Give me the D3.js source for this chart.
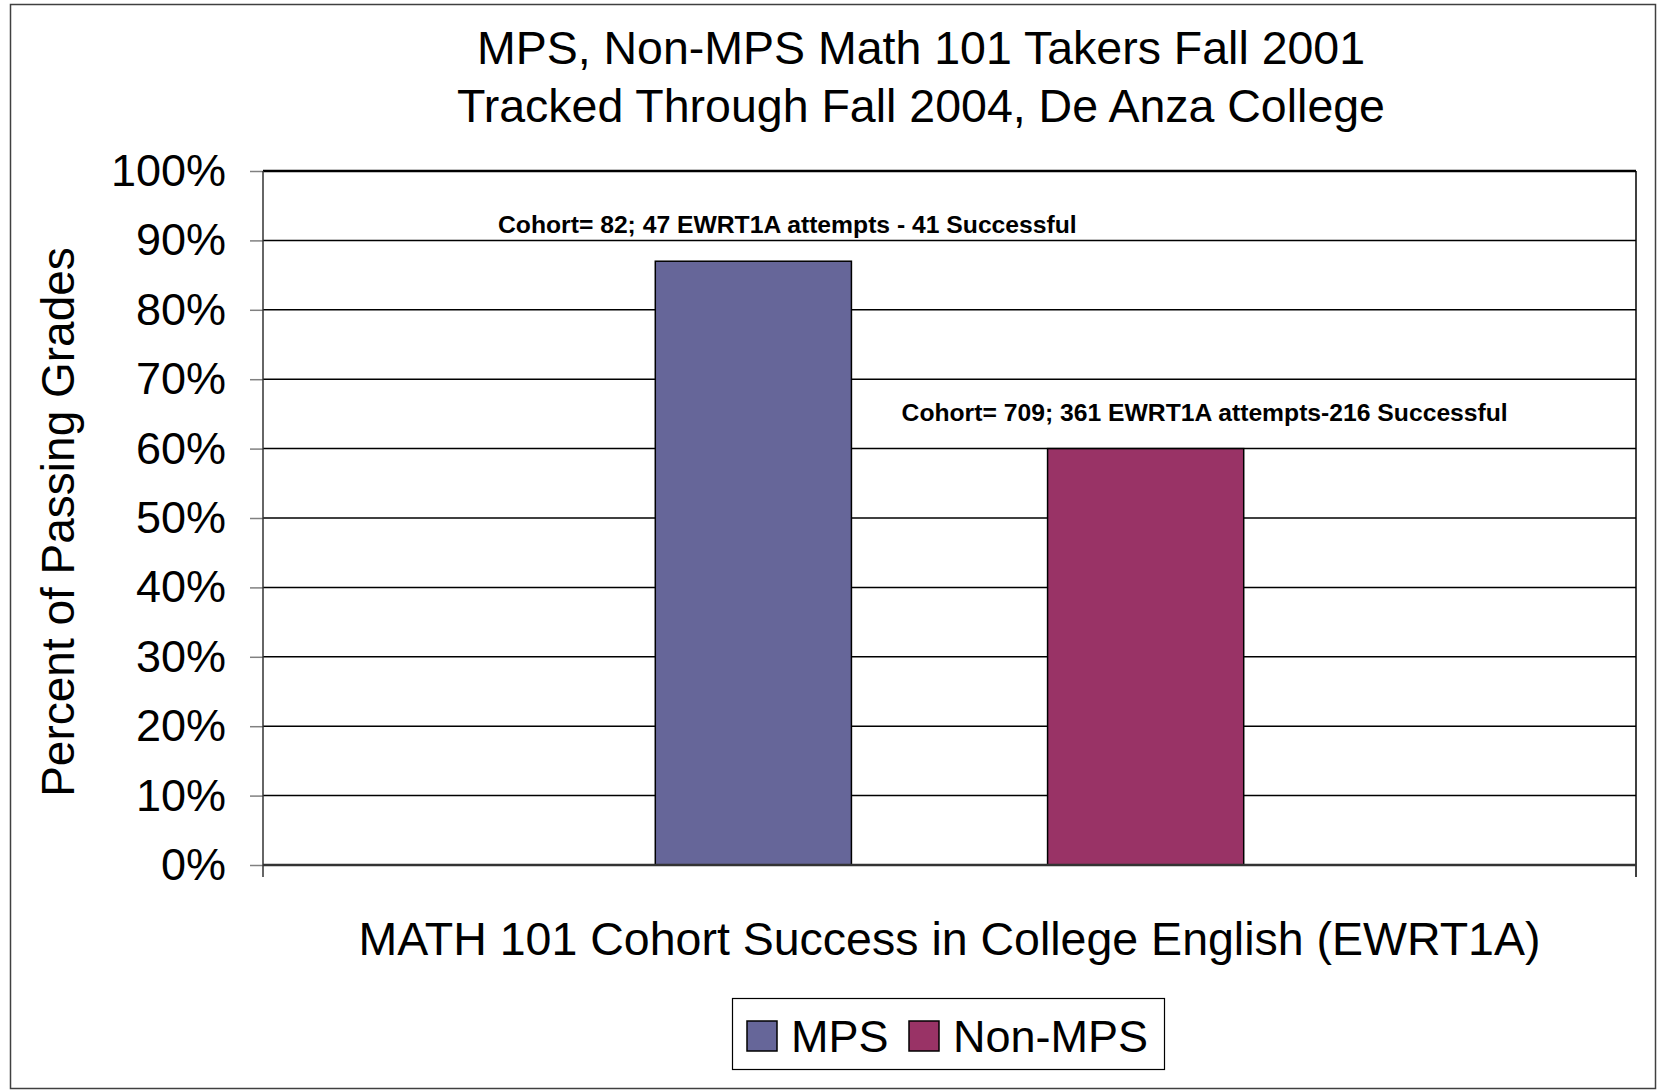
<!DOCTYPE html>
<html>
<head>
<meta charset="utf-8">
<script src="https://cdn.jsdelivr.net/npm/d3@7"></script>
<style>
  body { margin: 0; background: #fff; }
  text { font-family: "Liberation Sans", Arial, sans-serif; fill: #000; }
</style>
</head>
<body>
<div id="chart"></div>
<script>
// data
var category = ["MATH 101 Cohort Success in College English (EWRT1A)"];
var series = ["MPS", "Non-MPS"];
var passRate = [0.87, 0.60];
var barLabels = [
  "Cohort= 82; 47 EWRT1A attempts - 41 Successful",
  "Cohort= 709; 361 EWRT1A attempts-216 Successful"
];
var yTicks = [0, 0.1, 0.2, 0.3, 0.4, 0.5, 0.6, 0.7, 0.8, 0.9, 1.0];
var titleLines = ["MPS, Non-MPS Math 101 Takers Fall 2001", "Tracked Through Fall 2004, De Anza College"];
var yTitle = "Percent of Passing Grades";
var colors = ["#666699", "#993366"];

var width = 1658, height = 1091;
var margin = {top: 171, right: 22, bottom: 226, left: 263};
var w = width - margin.left - margin.right,
    h = height - margin.top - margin.bottom;

var svg = d3.select("#chart").append("svg")
    .attr("width", width)
    .attr("height", height);

// outer frame
svg.append("rect")
    .attr("x", 10.5).attr("y", 4.5)
    .attr("width", 1645).attr("height", 1084)
    .attr("fill", "none").attr("stroke", "#404040").attr("stroke-width", 1.5);

// title
svg.append("g").selectAll("text")
   .data(titleLines)
   .enter().append("text")
   .attr("x", 921)
   .attr("y", function(d, i){ return 64 + i * 58; })
   .attr("text-anchor", "middle")
   .style("font-size", "46.5px")
   .text(function(d){ return d; });

var g = svg.append("g")
    .attr("transform", "translate(" + margin.left + "," + margin.top + ")");

var y = d3.scaleLinear().domain([0, 1]).range([h, 0]);

var x0 = d3.scaleBand()
    .domain(category)
    .range([0, w])
    .paddingInner(0.4)
    .paddingOuter(0.4);

var x1 = d3.scaleBand()
    .domain(series)
    .range([0, x0.bandwidth()])
    .paddingInner(0.5);

var colorscale = d3.scaleOrdinal().domain(series).range(colors);

// gridlines
g.append("g")
  .selectAll("line")
  .data(yTicks.slice(1))
  .enter().append("line")
  .attr("x1", 0).attr("x2", w)
  .attr("y1", function(d){ return y(d); })
  .attr("y2", function(d){ return y(d); })
  .attr("stroke", "#000")
  .attr("stroke-width", function(d){ return d == 1 ? 2.5 : 1.5; });

// right edge of plot
g.append("line")
  .attr("x1", w).attr("x2", w)
  .attr("y1", 0).attr("y2", h + 12)
  .attr("stroke", "#000").attr("stroke-width", 1.5);

// y axis
var yAxis = d3.axisLeft(y)
    .tickValues(yTicks)
    .tickFormat(d3.format(".0%"))
    .tickSize(13)
    .tickPadding(24);

g.append("g")
  .attr("class", "yAxis")
  .call(customYAxis);

function customYAxis(s){
  s.call(yAxis);
  s.select(".domain").remove();
  s.selectAll(".tick line").attr("stroke", "#808080").attr("stroke-width", 1.5);
  s.selectAll(".tick text")
   .style("font-size", "45px")
   .style("font-family", "'Liberation Sans', Arial, sans-serif")
   .attr("fill", "#000");
}

// left axis line (extends below like the category tick)
g.append("line")
  .attr("x1", 0).attr("x2", 0)
  .attr("y1", 0).attr("y2", h + 12)
  .attr("stroke", "#333").attr("stroke-width", 1.5);

// bars
var bars = g.append("g")
  .selectAll("rect")
  .data(series)
  .enter().append("rect")
  .attr("x", function(d){ return x0(category[0]) + x1(d); })
  .attr("y", function(d, i){ return y(passRate[i]); })
  .attr("width", x1.bandwidth())
  .attr("height", function(d, i){ return h - y(passRate[i]); })
  .attr("fill", function(d){ return colorscale(d); })
  .attr("stroke", "#000")
  .attr("stroke-width", 1.5);

// x axis base line
g.append("line")
  .attr("x1", 0).attr("x2", w)
  .attr("y1", h).attr("y2", h)
  .attr("stroke", "#333").attr("stroke-width", 2.5);

// bar labels (moved a bit right of centre like in the original)
var labelShift = [34, 59];
g.append("g")
  .selectAll("text")
  .data(barLabels)
  .enter().append("text")
  .attr("x", function(d, i){ return x0(category[0]) + x1(series[i]) + x1.bandwidth() / 2 + labelShift[i]; })
  .attr("y", function(d, i){ return y(passRate[i]) - 28; })
  .attr("text-anchor", "middle")
  .style("font-size", "24.7px")
  .style("font-weight", "bold")
  .text(function(d){ return d; });

// x axis title
svg.append("text")
   .attr("x", margin.left + x0(category[0]) + x0.bandwidth() / 2)
   .attr("y", 955)
   .attr("text-anchor", "middle")
   .style("font-size", "46.5px")
   .text(category[0]);

// y axis title
svg.append("text")
   .attr("transform", "translate(74,522) rotate(-90)")
   .attr("text-anchor", "middle")
   .style("font-size", "46px")
   .text(yTitle);

// legend
var legend = svg.append("g").attr("transform", "translate(732,998)");
legend.append("rect")
   .attr("x", 0.5).attr("y", 0.5)
   .attr("width", 432).attr("height", 71)
   .attr("fill", "#fff").attr("stroke", "#000").attr("stroke-width", 1.2);

var legendX = [15, 177];
var item = legend.selectAll(".item")
   .data(series)
   .enter().append("g")
   .attr("class", "item")
   .attr("transform", function(d, i){ return "translate(" + legendX[i] + ",0)"; });

item.append("rect")
   .attr("x", 0).attr("y", 23)
   .attr("width", 30).attr("height", 30)
   .attr("fill", function(d){ return colorscale(d); })
   .attr("stroke", "#000").attr("stroke-width", 1.5);

item.append("text")
   .attr("x", 44).attr("y", 54)
   .style("font-size", "45px")
   .text(function(d){ return d; });
</script>
</body>
</html>
